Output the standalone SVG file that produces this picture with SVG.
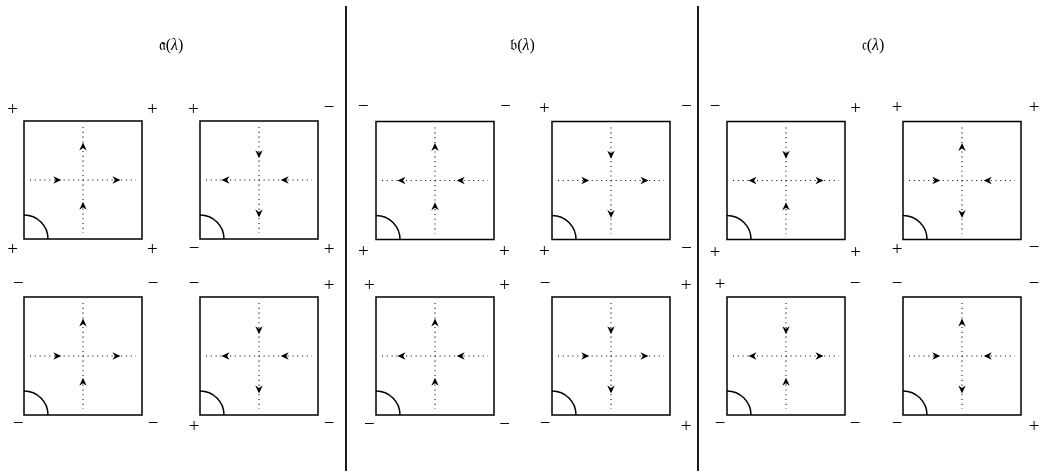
<svg xmlns="http://www.w3.org/2000/svg" width="1040" height="476" viewBox="0 0 1040 476">
<style>
.box{fill:none;stroke:#000;stroke-width:1.5}
.arc{fill:none;stroke:#000;stroke-width:1.5}
.dot{fill:none;stroke:#111;stroke-width:1.1;stroke-dasharray:1.1 3.7}
.sg{font-family:"Liberation Serif","DejaVu Serif",serif;font-size:19px;text-anchor:middle;fill:#000;filter:url(#gray)}
.title{font-family:"Liberation Serif","DejaVu Serif",serif;font-size:16px;text-anchor:middle;fill:#000;filter:url(#gray)}
.div{stroke:#000;stroke-width:1.8}
</style>
<defs>
<filter id="gray" x="-50%" y="-50%" width="200%" height="200%"><feOffset dx="0" dy="0"/></filter>
<path id="ah" d="M0,0 L-8,-3.7 L-5.6,0 L-8,3.7 Z" fill="#000"/>
<g id="cell">
<rect class="box" x="0" y="0" width="118" height="118"/>
<path class="arc" d="M0,94 A24,24 0 0 1 24,118"/>
<line class="dot" x1="6" y1="59" x2="112" y2="59"/>
<line class="dot" x1="59" y1="6" x2="59" y2="112"/>
</g>
</defs>
<rect width="1040" height="476" fill="#fff"/>
<g id="dividers">
<line class="div" x1="346" y1="6" x2="346" y2="471"/>
<line class="div" x1="698" y1="6" x2="698" y2="471"/>
</g>
<g id="titles">
<text class="title" x="171" y="50">𝔞(<tspan font-style="italic">λ</tspan>)</text>
<text class="title" x="522.5" y="50">𝔟(<tspan font-style="italic">λ</tspan>)</text>
<text class="title" x="873" y="50">𝔠(<tspan font-style="italic">λ</tspan>)</text>
</g>
<g id="a1">
<use href="#cell" x="24" y="121"/>
<use href="#ah" transform="translate(61.3,180)"/><use href="#ah" transform="translate(120.5,180)"/>
<use href="#ah" transform="translate(83,201.7) rotate(-90)"/><use href="#ah" transform="translate(83,142.5) rotate(-90)"/>
<text class="sg" x="12.7" y="114.8">+</text><text class="sg" x="152.3" y="114.8">+</text>
<text class="sg" x="12.7" y="254.8">+</text><text class="sg" x="152.3" y="254.8">+</text>
</g>
<g id="a2">
<use href="#cell" x="200" y="121"/>
<use href="#ah" transform="translate(280.7,180) rotate(180)"/><use href="#ah" transform="translate(221.5,180) rotate(180)"/>
<use href="#ah" transform="translate(259,158.3) rotate(90)"/><use href="#ah" transform="translate(259,217.5) rotate(90)"/>
<text class="sg" x="193.3" y="114.8">+</text><text class="sg" x="329" y="112.5">−</text>
<text class="sg" x="194" y="253.8">−</text><text class="sg" x="329" y="254.8">+</text>
</g>
<g id="a3">
<use href="#cell" x="24" y="297"/>
<use href="#ah" transform="translate(61.3,356)"/><use href="#ah" transform="translate(120.5,356)"/>
<use href="#ah" transform="translate(83,377.7) rotate(-90)"/><use href="#ah" transform="translate(83,318.5) rotate(-90)"/>
<text class="sg" x="18.3" y="288.8">−</text><text class="sg" x="153" y="288.8">−</text>
<text class="sg" x="18.3" y="429.1">−</text><text class="sg" x="153" y="429.1">−</text>
</g>
<g id="a4">
<use href="#cell" x="200" y="297"/>
<use href="#ah" transform="translate(280.7,356) rotate(180)"/><use href="#ah" transform="translate(221.5,356) rotate(180)"/>
<use href="#ah" transform="translate(259,334.3) rotate(90)"/><use href="#ah" transform="translate(259,393.5) rotate(90)"/>
<text class="sg" x="194" y="288.8">−</text><text class="sg" x="329" y="290.8">+</text>
<text class="sg" x="194" y="431.8">+</text><text class="sg" x="329" y="429.1">−</text>
</g>
<g id="b1">
<use href="#cell" x="376" y="121.5"/>
<use href="#ah" transform="translate(456.7,180.5) rotate(180)"/><use href="#ah" transform="translate(397.5,180.5) rotate(180)"/>
<use href="#ah" transform="translate(435,202.2) rotate(-90)"/><use href="#ah" transform="translate(435,143) rotate(-90)"/>
<text class="sg" x="363.3" y="111.5">−</text><text class="sg" x="505.7" y="111.5">−</text>
<text class="sg" x="363.3" y="257.1">+</text><text class="sg" x="504.3" y="256.8">+</text>
</g>
<g id="b2">
<use href="#cell" x="552" y="121.5"/>
<use href="#ah" transform="translate(589.3,180.5)"/><use href="#ah" transform="translate(648.5,180.5)"/>
<use href="#ah" transform="translate(611,158.8) rotate(90)"/><use href="#ah" transform="translate(611,218) rotate(90)"/>
<text class="sg" x="544.3" y="114.1">+</text><text class="sg" x="686.7" y="111.5">−</text>
<text class="sg" x="544.3" y="256.5">+</text><text class="sg" x="686.7" y="254.1">−</text>
</g>
<g id="b3">
<use href="#cell" x="376" y="297"/>
<use href="#ah" transform="translate(456.7,356) rotate(180)"/><use href="#ah" transform="translate(397.5,356) rotate(180)"/>
<use href="#ah" transform="translate(435,377.7) rotate(-90)"/><use href="#ah" transform="translate(435,318.5) rotate(-90)"/>
<text class="sg" x="369.3" y="290.5">+</text><text class="sg" x="504.7" y="290.5">+</text>
<text class="sg" x="369.3" y="429.8">−</text><text class="sg" x="504.7" y="429.8">−</text>
</g>
<g id="b4">
<use href="#cell" x="552" y="297"/>
<use href="#ah" transform="translate(589.3,356)"/><use href="#ah" transform="translate(648.5,356)"/>
<use href="#ah" transform="translate(611,334.3) rotate(90)"/><use href="#ah" transform="translate(611,393.5) rotate(90)"/>
<text class="sg" x="545" y="288.8">−</text><text class="sg" x="686" y="290.8">+</text>
<text class="sg" x="545" y="429.1">−</text><text class="sg" x="686" y="431.5">+</text>
</g>
<g id="c1">
<use href="#cell" x="727" y="121.5"/>
<use href="#ah" transform="translate(748.5,180.5) rotate(180)"/><use href="#ah" transform="translate(823.5,180.5)"/>
<use href="#ah" transform="translate(786,158.8) rotate(90)"/><use href="#ah" transform="translate(786,202.2) rotate(-90)"/>
<text class="sg" x="715" y="111.5">−</text><text class="sg" x="855.7" y="114.1">+</text>
<text class="sg" x="715" y="257.5">+</text><text class="sg" x="855.7" y="257.5">+</text>
</g>
<g id="c2">
<use href="#cell" x="903" y="121.5"/>
<use href="#ah" transform="translate(940.3,180.5)"/><use href="#ah" transform="translate(983.7,180.5) rotate(180)"/>
<use href="#ah" transform="translate(962,143) rotate(-90)"/><use href="#ah" transform="translate(962,218) rotate(90)"/>
<text class="sg" x="897" y="112.8">+</text><text class="sg" x="1034" y="112.8">+</text>
<text class="sg" x="897" y="254.8">+</text><text class="sg" x="1034" y="252.8">−</text>
</g>
<g id="c3">
<use href="#cell" x="727" y="297"/>
<use href="#ah" transform="translate(748.5,356) rotate(180)"/><use href="#ah" transform="translate(823.5,356)"/>
<use href="#ah" transform="translate(786,334.3) rotate(90)"/><use href="#ah" transform="translate(786,377.7) rotate(-90)"/>
<text class="sg" x="720" y="289.8">+</text><text class="sg" x="855" y="288.8">−</text>
<text class="sg" x="720" y="428.8">−</text><text class="sg" x="855" y="428.8">−</text>
</g>
<g id="c4">
<use href="#cell" x="903" y="297"/>
<use href="#ah" transform="translate(940.3,356)"/><use href="#ah" transform="translate(983.7,356) rotate(180)"/>
<use href="#ah" transform="translate(962,318.5) rotate(-90)"/><use href="#ah" transform="translate(962,393.5) rotate(90)"/>
<text class="sg" x="897" y="288.8">−</text><text class="sg" x="1034" y="288.8">−</text>
<text class="sg" x="897" y="428.8">−</text><text class="sg" x="1034" y="431.8">+</text>
</g>
</svg>
